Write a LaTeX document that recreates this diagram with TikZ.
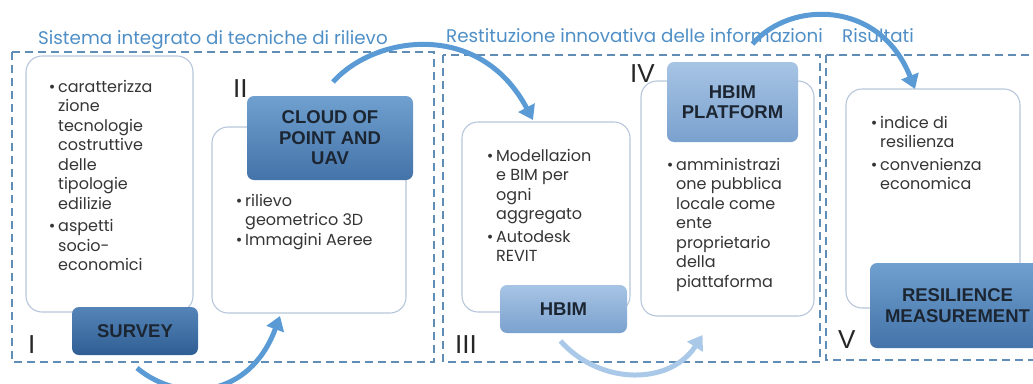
\documentclass[tikz,border=0pt]{standalone}
\usepackage{fontspec}
\setmainfont{Poppins}
\newfontfamily\tagfont{Liberation Sans}
\usetikzlibrary{arrows.meta}

\definecolor{framecol}{HTML}{5F8DB5}
\definecolor{headcol}{HTML}{4F8FC6}
\definecolor{panelcol}{HTML}{B7C7DB}
\definecolor{bodytext}{HTML}{353535}
\definecolor{tagtext}{HTML}{1C2633}
\definecolor{flowcol}{HTML}{5B9BD5}
\definecolor{flowfade}{HTML}{AAC8E8}
\definecolor{darktop}{HTML}{5585B8}
\definecolor{darkbot}{HTML}{2F5E94}
\definecolor{midtop}{HTML}{70A0CF}
\definecolor{midbot}{HTML}{4373A8}
\definecolor{lighttop}{HTML}{A7C4E4}
\definecolor{lightbot}{HTML}{7AA1CE}

\tikzset{
	group/.style={draw=framecol, line width=1.4pt, dash pattern=on 8pt off 5pt},
	heading/.style={text=headcol, inner sep=0pt, anchor=base west, font=\fontsize{18.3}{18}\selectfont},
	panel/.style={draw=panelcol, line width=1.1pt, fill=white, rounded corners=16pt, inner sep=0pt, outer sep=0pt, anchor=north west},
	tag/.style={rounded corners=7pt, inner sep=0pt, outer sep=0pt, anchor=north west, align=center, text=tagtext, font=\tagfont\bfseries\fontsize{18.5}{20.5}\selectfont},
	items/.style={anchor=north west, align=left, inner sep=0pt, text=bodytext, font=\fontsize{16}{19.5}\selectfont},
	numeral/.style={anchor=base west, inner sep=0pt, text=black!85, font=\tagfont\fontsize{26}{26}\selectfont},
	flow/.style={draw=flowcol, line width=5pt, -{Triangle[length=14pt,width=18pt]}},
}
\newcommand{\bul}{\llap{\textbullet\,}}

\begin{document}
\begin{tikzpicture}[x=1pt, y=-1pt]
	\useasboundingbox (0,0) rectangle (1033,383);
	\clip (0,0) rectangle (1033,383);

	\node[heading] (title1) at (38,44) {Sistema integrato di tecniche di rilievo};
	\node[heading] (title2) at (446,42) {Restituzione innovativa delle informazioni};
	\node[heading] (title3) at (842,42) {Risultati};

	\draw[group] (12,52) rectangle (434,362);
	\draw[group] (443,55) rectangle (820,362);
	\draw[group] (826,55) rectangle (1045,360);

	% phase I
	\node[panel, minimum width=167pt, minimum height=256pt] (survpanel) at (26,56) {};
	\node[items] (survtext) at (58,80) {\bul caratterizza\\zione\\tecnologie\\costruttive\\delle\\tipologie\\edilizie\\[3pt]\bul aspetti\\socio-\\economici};
	\node[tag, top color=darktop, bottom color=darkbot, minimum width=126pt, minimum height=48pt] (survey) at (72,307) {SURVEY};
	\node[numeral] (n1) at (28,353) {I};

	% phase II
	\node[panel, minimum width=194pt, minimum height=186pt] (cloudpanel) at (212,127) {};
	\node[items] (cloudtext) at (245,194) {\bul rilievo\\geometrico 3D\\\bul Immagini Aeree};
	\node[tag, top color=midtop, bottom color=midbot, minimum width=166pt, minimum height=84pt] (cloud) at (247,96) {CLOUD OF\\POINT AND\\UAV};
	\node[numeral] (n2) at (233,97) {II};

	% phase III
	\node[panel, minimum width=168pt, minimum height=190pt] (modelpanel) at (462,122) {};
	\node[items] (modeltext) at (496,149) {\bul Modellazion\\e BIM per\\ogni\\aggregato\\[3pt]\bul Autodesk\\REVIT};
	\node[tag, top color=lighttop, bottom color=lightbot, minimum width=127pt, minimum height=48pt] (hbim) at (500,285) {HBIM};
	\node[numeral] (n3) at (455,353) {III};

	% phase IV
	\node[panel, minimum width=173pt, minimum height=235pt] (platpanel) at (641,81) {};
	\node[items] (plattext) at (676,158) {\bul amministrazi\\one pubblica\\locale come\\ente\\proprietario\\della\\piattaforma};
	\node[tag, top color=lighttop, bottom color=lightbot, minimum width=131pt, minimum height=80pt] (platform) at (667,62) {HBIM\\PLATFORM};
	\node[numeral] (n4) at (630,82) {IV};

	% phase V
	\node[panel, minimum width=174pt, minimum height=219pt] (respanel) at (846,89) {};
	\node[items] (restext) at (880,116) {\bul indice di\\resilienza\\[3pt]\bul convenienza\\economica};
	\node[tag, top color=midtop, bottom color=midbot, minimum width=175pt, minimum height=85pt] (resilience) at (870,263) {RESILIENCE\\MEASUREMENT};
	\node[numeral] (n5) at (838,348) {V};

	% flow between phases
	\draw[flow] ([shift={(3,-14)}]cloud.north) .. controls +(42,-47) and +(-53,-100) .. ([shift={(-13,-2)}]modelpanel.north);
	\draw[flow] ([shift={(2,13)}]survey.south) .. controls +(43,36) and +(-30,82) .. ([shift={(-29,3)}]cloudpanel.south);
	\draw[flow, draw=flowfade] ([shift={(-3,8)}]hbim.south) .. controls +(40,45) and +(-32,50) .. ([shift={(-25,19)}]platpanel.south);
	\draw[flow] ([shift={(20,-18)}]platform.north) .. controls +(38,-44) and +(-35,-89) .. ([shift={(-18,0)}]respanel.north);
\end{tikzpicture}
\end{document}
